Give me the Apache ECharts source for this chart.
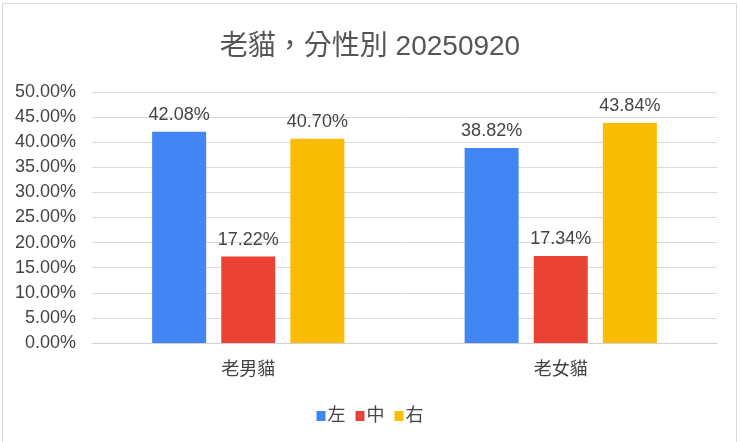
<!DOCTYPE html>
<html>
<head>
<meta charset="utf-8">
<script src="https://cdn.jsdelivr.net/npm/echarts@6/dist/echarts.min.js"></script>
<style>
  html, body { margin: 0; padding: 0; background: #fff; }
  #chart { width: 740px; height: 442px; }
</style>
</head>
<body>
<div id="chart"></div>
<script>
// data
var categories = ['老男貓', '老女貓'];
var seriesNames = ['左', '中', '右'];
var leftValues = [42.08, 38.82];
var midValues = [17.22, 17.34];
var rightValues = [40.70, 43.84];
var colors = ['#4285F4', '#EA4335', '#FBBC04'];

var font = '"Liberation Sans", Arial, "Noto Sans CJK TC", sans-serif';

function makeSeries(name, values, color) {
    return {
        name: name,
        type: 'bar',
        data: values,
        barWidth: 54,
        barGap: '28%',
        itemStyle: { color: color },
        label: {
            show: true,
            position: 'top',
            distance: 8,
            color: '#444',
            fontSize: 18,
            fontFamily: font,
            formatter: function (p) { return p.value.toFixed(2) + '%'; }
        }
    };
}

var myChart = echarts.init(document.getElementById('chart'));
var option = {
    backgroundColor: '#fff',
    color: colors,
    animation: false,
    graphic: [{
        type: 'rect',
        shape: { x: 2.5, y: 3.5, width: 734, height: 440 },
        style: { fill: 'none', stroke: '#d9d9d9', lineWidth: 1 },
        silent: true
    }],
    title: {
        text: '老貓，分性別 20250920',
        left: 'center',
        top: 28,
        textStyle: {
            color: '#555',
            fontSize: 28,
            fontWeight: 'normal',
            fontFamily: font
        }
    },
    legend: {
        data: seriesNames,
        bottom: 12,
        left: 'center',
        icon: 'rect',
        itemWidth: 9,
        itemHeight: 10,
        itemGap: 10,
        textStyle: { color: '#444', fontSize: 18, fontFamily: font, padding: [0, 0, 0, -3] }
    },
    grid: {
        left: 92,
        right: 23,
        top: 92,
        bottom: 99,
        containLabel: false
    },
    xAxis: {
        type: 'category',
        data: categories,
        axisTick: { show: false },
        axisLine: { lineStyle: { color: '#d0d0d0' } },
        axisLabel: {
            color: '#444',
            fontSize: 18,
            fontFamily: font,
            margin: 18
        }
    },
    yAxis: {
        type: 'value',
        min: 0,
        max: 50,
        interval: 5,
        axisLine: { show: false },
        axisTick: { show: false },
        splitLine: { lineStyle: { color: '#d9d9d9' } },
        axisLabel: {
            color: '#444',
            fontSize: 18,
            fontFamily: font,
            margin: 16,
            formatter: function (v) { return v.toFixed(2) + '%'; }
        }
    },
    series: [
        makeSeries(seriesNames[0], leftValues, colors[0]),
        makeSeries(seriesNames[1], midValues, colors[1]),
        makeSeries(seriesNames[2], rightValues, colors[2])
    ]
};
myChart.setOption(option);
</script>
</body>
</html>
